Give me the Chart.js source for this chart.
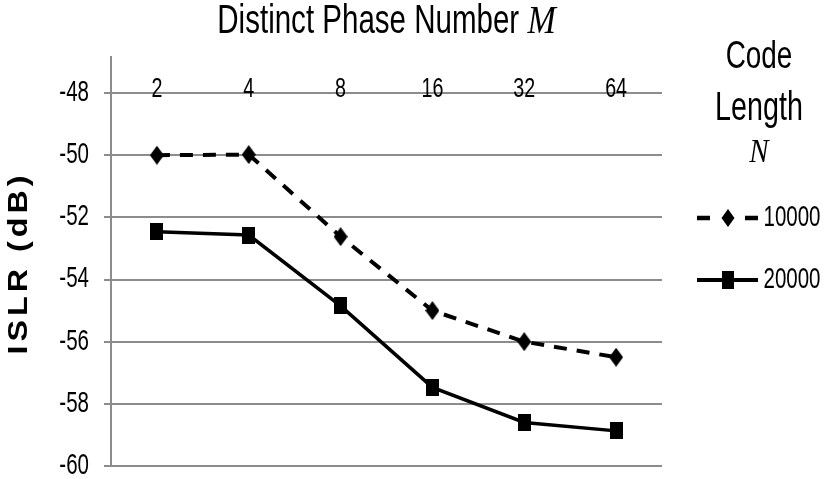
<!DOCTYPE html>
<html><head><meta charset="utf-8">
<script src="https://cdn.jsdelivr.net/npm/chart.js@4/dist/chart.umd.min.js"></script>
<style>html,body{margin:0;padding:0;background:#fff;}#wrap{width:827px;height:479px;}</style>
</head><body><div id="wrap"><canvas id="c" width="827" height="479"></canvas></div>
<script>
const phaseNumbers = ['2', '4', '8', '16', '32', '64'];
const islr10000 = [-50.0, -49.98, -52.62, -55.0, -56.0, -56.5];
const islr20000 = [-52.46, -52.57, -54.85, -57.47, -58.6, -58.87];
const seriesNames = ['10000', '20000'];
const yTicks = [-60, -58, -56, -54, -52, -50, -48];
const chartTitle = 'Distinct Phase Number ';
const chartTitleVar = 'M';
const yTitle = 'ISLR (dB)';
const legendTitle = ['Code', 'Length'];
const legendTitleVar = 'N';

const SANS = "'Liberation Sans', Arial, sans-serif";
const SERIF = "'Liberation Serif', 'DejaVu Serif', serif";

// The reference uses a condensed, slightly tall sans face; emulate it by drawing
// every label of this canvas narrower and taller around its anchor point.
const canvas = document.getElementById('c');
const c2d = canvas.getContext('2d');
const protoFill = CanvasRenderingContext2D.prototype.fillText;
const SX = 0.82, SY = 1.15;
c2d.fillText = function (text, x, y, maxWidth) {
  this.save();
  this.translate(x, y);
  this.scale(SX, SY);
  if (maxWidth !== undefined && maxWidth !== null) protoFill.call(this, text, 0, 0, maxWidth / SX);
  else protoFill.call(this, text, 0, 0);
  this.restore();
};

function markerImg(kind) {
  const c = document.createElement('canvas');
  const g = c.getContext('2d');
  g.fillStyle = '#000';
  if (kind === 'diamond') {
    c.width = 14; c.height = 19;
    g.fillStyle = '#000';
    g.beginPath(); g.moveTo(7, 0); g.lineTo(14, 9.5); g.lineTo(7, 19); g.lineTo(0, 9.5); g.closePath(); g.fill();
  } else {
    c.width = 13; c.height = 17;
    g.fillStyle = '#000';
    g.fillRect(0, 0, 13, 17);
  }
  return c;
}
function legendImg(dashed) {
  const c = document.createElement('canvas');
  c.width = 70; c.height = 22;
  const g = c.getContext('2d');
  g.strokeStyle = '#000'; g.fillStyle = '#000';
  const y = 11;
  if (dashed) {
    g.lineWidth = 4.5;
    g.beginPath(); g.moveTo(7, y); g.lineTo(20, y); g.moveTo(55, y); g.lineTo(68, y); g.stroke();
    g.beginPath(); g.moveTo(38, 2); g.lineTo(44.5, y); g.lineTo(38, 20); g.lineTo(31.5, y); g.closePath(); g.fill();
  } else {
    g.lineWidth = 4;
    g.beginPath(); g.moveTo(7, y); g.lineTo(68, y); g.stroke();
    g.fillRect(32, 2, 12, 18);
  }
  return c;
}
const diamond = markerImg('diamond');
const square = markerImg('square');
const legendImgs = [legendImg(true), legendImg(false)];

const textPlugin = {
  id: 'texts',
  afterDraw(chart) {
    const ctx = chart.ctx;
    const ca = chart.chartArea;
    ctx.save();
    ctx.fillStyle = '#000';
    ctx.textBaseline = 'alphabetic';
    // chart title
    const f1 = "36px " + SANS, f2 = "italic 34px " + SERIF;
    ctx.font = f1; const w1 = ctx.measureText(chartTitle).width * SX;
    ctx.font = f2; const w2 = ctx.measureText(chartTitleVar).width;
    const x = (ca.left + ca.right) / 2 - (w1 + w2) / 2;
    ctx.textAlign = 'left';
    ctx.font = f1; ctx.fillText(chartTitle, x, 33);
    ctx.save(); ctx.translate(x + w1, 33); ctx.scale(1, SY);
    ctx.font = f2; protoFill.call(ctx, chartTitleVar, 0, 0);
    ctx.restore();
    // legend title
    const lg = chart.legend;
    const lx = lg.left + 97;
    ctx.textAlign = 'center';
    ctx.font = "34px " + SANS; ctx.fillText(legendTitle[0], lx, 68);
    ctx.font = "35px " + SANS; ctx.fillText(legendTitle[1], lx, 120);
    ctx.save(); ctx.translate(lx, 162); ctx.scale(1, SY);
    ctx.font = "italic 29px " + SERIF; protoFill.call(ctx, legendTitleVar, 0, 0);
    ctx.restore();
    // y title
    ctx.save();
    ctx.translate(27, 263);
    ctx.rotate(-Math.PI / 2);
    ctx.scale(1.15, 1);
    ctx.font = "bold 28px " + SANS;
    try { ctx.letterSpacing = '3.5px'; } catch (e) {}
    ctx.textAlign = 'center';
    protoFill.call(ctx, yTitle, 0, 0);
    ctx.restore();
    ctx.restore();
  }
};

new Chart(canvas, {
  type: 'line',
  data: {
    labels: phaseNumbers,
    datasets: [
      { label: seriesNames[0], data: islr10000, borderColor: '#000', backgroundColor: '#000', borderWidth: 4, borderDash: [13, 10], pointStyle: diamond, pointRadius: 8, tension: 0, fill: false },
      { label: seriesNames[1], data: islr20000, borderColor: '#000', backgroundColor: '#000', borderWidth: 3.5, pointStyle: square, pointRadius: 8, tension: 0, fill: false }
    ]
  },
  options: {
    responsive: false,
    animation: false,
    devicePixelRatio: 1,
    layout: { padding: { top: 57, bottom: 13, left: 0, right: 0 } },
    scales: {
      x: {
        type: 'category',
        offset: true,
        position: { y: -48 },
        afterFit: (s) => { s.height = 0; },
        grid: { display: false, drawTicks: false },
        border: { display: false },
        ticks: { font: { family: SANS, size: 24 }, color: '#000', padding: -18.5, maxRotation: 0, autoSkip: false }
      },
      y: {
        min: -60,
        max: -46.84,
        afterBuildTicks: (s) => { s.ticks = yTicks.map(v => ({ value: v })); },
        afterFit: (s) => { s.width = 111; s.paddingTop = 0; s.paddingBottom = 0; },
        grid: { color: '#8c8c8c', lineWidth: 2, tickLength: 7, drawTicks: true },
        border: { color: '#8c8c8c', width: 2 },
        ticks: { font: { family: SANS, size: 25 }, color: '#000', padding: 15 }
      }
    },
    plugins: {
      legend: {
        position: 'right',
        align: 'start',
        maxWidth: 165,
        title: { display: true, text: '', font: { size: 26 }, padding: { top: 80.3, bottom: 0 } },
        labels: {
          usePointStyle: true,
          pointStyleWidth: 52,
          font: { family: SANS, size: 25 },
          color: '#000',
          padding: 37,
          generateLabels: (chart) => Chart.defaults.plugins.legend.labels.generateLabels(chart).map((it, i) => { it.pointStyle = legendImgs[i]; return it; })
        }
      },
      tooltip: { enabled: false }
    }
  },
  plugins: [textPlugin]
});
</script>
</body></html>
